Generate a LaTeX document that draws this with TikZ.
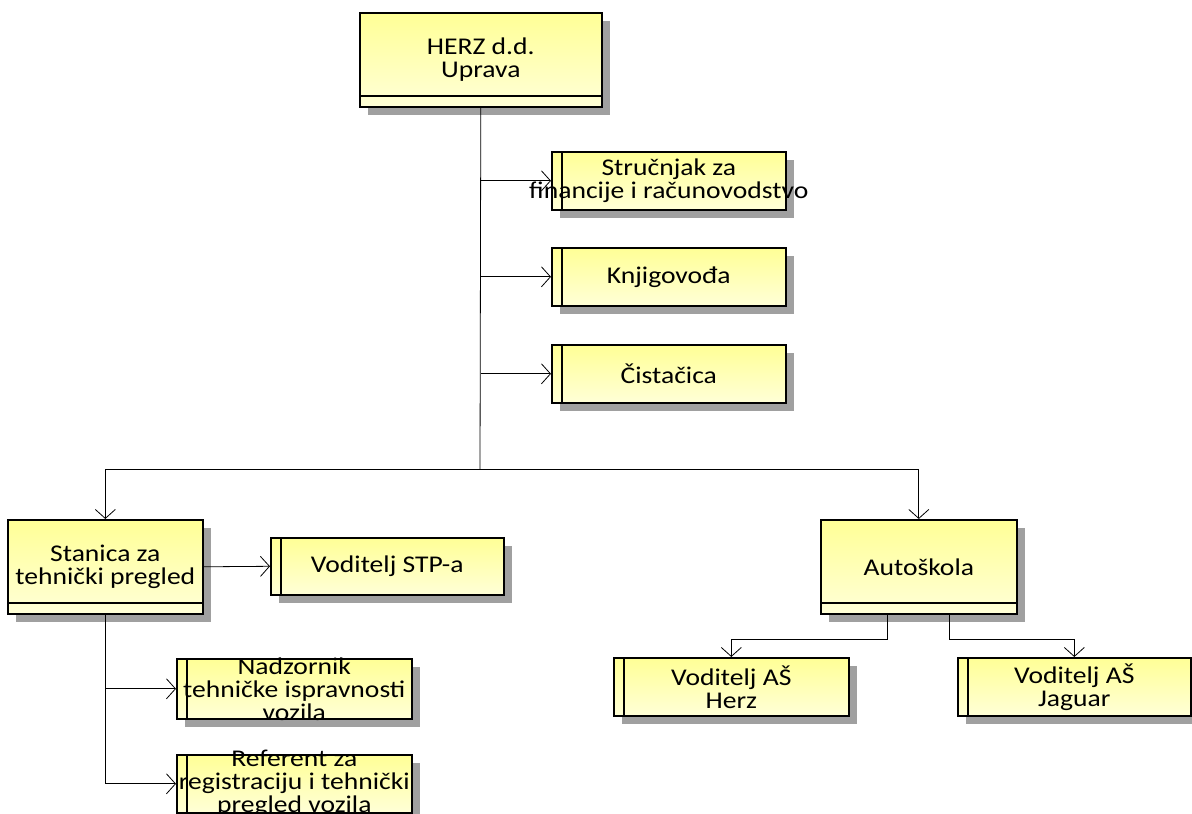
\documentclass[tikz,border=0pt]{standalone}
\usepackage{fontspec}
\setmainfont{Carlito}[FakeStretch=1.15]
\usetikzlibrary{arrows.meta,shadows}
\definecolor{BoxTop}{RGB}{255,255,150}
\definecolor{BoxBottom}{RGB}{255,255,215}
\definecolor{ShadowGray}{RGB}{160,160,160}
\tikzset{
  orgbox/.style={rectangle,draw,line width=1.6pt,top color=BoxTop,bottom color=BoxBottom,
    drop shadow={shadow xshift=8pt,shadow yshift=-8pt,fill=ShadowGray,opacity=1},
    anchor=north west,inner sep=-25pt,align=center,
    font=\fontsize{24}{23}\selectfont},
  unit/.style={orgbox,path picture={\draw[line width=1.6pt]
    ([yshift=11pt]path picture bounding box.south west) -- ([yshift=11pt]path picture bounding box.south east);}},
  post/.style={orgbox,path picture={\draw[line width=1.6pt]
    ([xshift=10pt]path picture bounding box.south west) -- ([xshift=10pt]path picture bounding box.north west);}},
  link/.style={line width=0.8pt},
  arr/.style={link,-{Straight Barb[length=9pt,width=20pt]}}
}
\begin{document}
\begin{tikzpicture}[x=1pt,y=1pt]
  \useasboundingbox (0,0) rectangle (1192,814);
  % management and staff
  \node (Uprava) [unit,minimum width=242pt,minimum height=94pt] at (359,802) {HERZ d.d.\\Uprava};
  \node (Strucnjak) [post,minimum width=234pt,minimum height=58pt] at (551,663) {Stručnjak za\\financije i računovodstvo};
  \node (Knjigovodja) [post,minimum width=234pt,minimum height=58pt] at (551,567) {Knjigovođa};
  \node (Cistacica) [post,minimum width=234pt,minimum height=58pt] at (551,470) {Čistačica};
  \coordinate (Split) at (480,345);
  % technical inspection
  \node (Stanica) [unit,minimum width=195pt,minimum height=94pt] at (7,295) {Stanica za\\tehnički pregled};
  \node (VoditeljSTP) [post,minimum width=233pt,minimum height=57pt] at (270,277) {Voditelj STP-a};
  \node (Nadzornik) [post,minimum width=235pt,minimum height=60pt] at (176,156) {Nadzornik\\tehničke ispravnosti\\vozila};
  \node (Referent) [post,minimum width=235pt,minimum height=58pt] at (176,60) {Referent za\\registraciju i tehnički\\pregled vozila};
  % driving school
  \node (Autoskola) [unit,minimum width=196pt,minimum height=94pt] at (820,295) {Autoškola};
  \node (VoditeljHerz) [post,minimum width=235pt,minimum height=58pt] at (613,157) {Voditelj AŠ\\Herz};
  \node (VoditeljJaguar) [post,minimum width=233pt,minimum height=58pt] at (957,157) {Voditelj AŠ\\Jaguar};

  \draw[link] (Uprava.south) -- (Split);
  \draw[arr] (Uprava.south |- Strucnjak.west) -- (Strucnjak.west);
  \draw[arr] (Uprava.south |- Knjigovodja.west) -- (Knjigovodja.west);
  \draw[arr] (Uprava.south |- Cistacica.west) -- (Cistacica.west);
  \draw[arr] (Split) -| (Stanica.north);
  \draw[arr] (Split) -| (Autoskola.north);

  \draw[arr] (Stanica.east) -- (VoditeljSTP.west);
  \draw[link] (Stanica.south) -- (Stanica.south |- Referent.west);
  \draw[arr] (Stanica.south |- Nadzornik.west) -- (Nadzornik.west);
  \draw[arr] (Stanica.south |- Referent.west) -- (Referent.west);

  \draw[arr] ([xshift=-31pt]Autoskola.south) -- ++(0,-25) -| (VoditeljHerz.north);
  \draw[arr] ([xshift=31pt]Autoskola.south) -- ++(0,-25) -| (VoditeljJaguar.north);
\end{tikzpicture}
\end{document}
